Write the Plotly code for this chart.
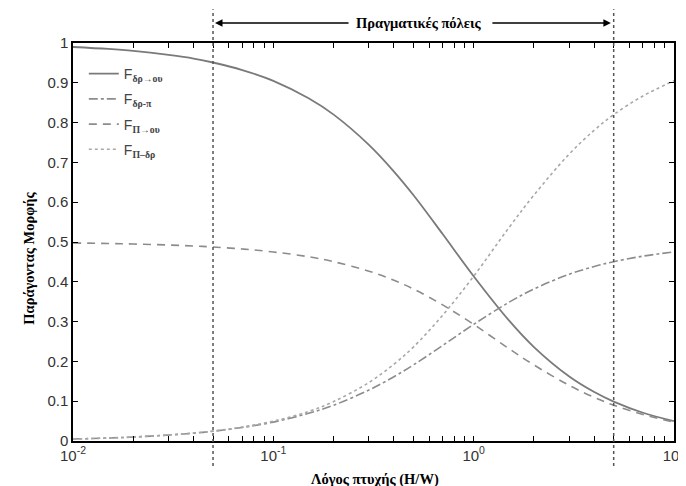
import numpy as np
import plotly.graph_objects as go

# ---- data ----
ratio = [0.01, 0.015, 0.02, 0.03, 0.04, 0.05, 0.07, 0.1, 0.15, 0.2, 0.3, 0.4, 0.5,
         0.7, 1, 1.5, 2, 3, 4, 5, 7, 10]
f_road_sky = [0.990, 0.985, 0.980, 0.970, 0.961, 0.951, 0.932, 0.905, 0.861, 0.820,
              0.744, 0.677, 0.618, 0.520, 0.414, 0.303, 0.236, 0.162, 0.123, 0.099,
              0.071, 0.050]
f_road_wall = [0.005, 0.0075, 0.010, 0.015, 0.0195, 0.0245, 0.034, 0.0475, 0.0695,
               0.090, 0.128, 0.1615, 0.191, 0.240, 0.293, 0.3485, 0.382, 0.419,
               0.4385, 0.4505, 0.4645, 0.475]
f_wall_sky = [0.4975, 0.4963, 0.495, 0.4925, 0.490, 0.4875, 0.4825, 0.475, 0.463,
              0.4505, 0.4267, 0.4037, 0.382, 0.342, 0.293, 0.232, 0.191, 0.1397,
              0.1096, 0.090, 0.0664, 0.0475]
f_wall_road = [0.005, 0.0074, 0.010, 0.015, 0.020, 0.025, 0.035, 0.050, 0.074, 0.099,
               0.147, 0.193, 0.236, 0.316, 0.414, 0.536, 0.618, 0.721, 0.781, 0.820,
               0.867, 0.905]

sub_style = "font-family:'Liberation Serif';font-weight:bold"
names = [
    f"F<sub><span style=\"{sub_style}\">δρ→ου</span></sub>",
    f"F<sub><span style=\"{sub_style}\">δρ-π</span></sub>",
    f"F<sub><span style=\"{sub_style}\">Π→ου</span></sub>",
    f"F<sub><span style=\"{sub_style}\">Π–δρ</span></sub>",
]
series = [f_road_sky, f_road_wall, f_wall_sky, f_wall_road]
dashes = ["solid", "dashdot", "8px,6px", "dot"]
colors = ["#7a7a7a", "#8c8c8c", "#8c8c8c", "#a8a8a8"]
widths = [1.8, 1.6, 1.6, 1.6]

band_low, band_high = 0.05, 5
y_ticks = [round(0.1 * i, 1) for i in range(11)]
x_ticks = [m * 10 ** e for e in (-2, -1, 0) for m in range(1, 10)] + [10]
x_text = ["10<sup>-2</sup>" if v == 0.01 else "10<sup>-1</sup>" if v == 0.1 else
          "10<sup>0</sup>" if v == 1 else "10<sup>1</sup>" if v == 10 else "" for v in x_ticks]

fig = go.Figure()
for i in range(4):
    fig.add_trace(go.Scatter(
        x=ratio, y=series[i], mode="lines", name=names[i], legendgroup=str(i),
        line=dict(color=colors[i], width=widths[i], dash=dashes[i], shape="spline"),
    ))

axis_common = dict(showgrid=False, zeroline=False, showline=True, linecolor="black",
                   linewidth=1.5, ticks="inside", ticklen=5, tickwidth=1.2,
                   tickcolor="black", mirror="ticks", ticklabeloverflow="allow",
                   tickfont=dict(family="Liberation Sans, Arial", size=15, color="#333"))

fig.update_layout(
    width=686, height=486,
    margin=dict(l=65, r=9, t=35, b=53),
    paper_bgcolor="white", plot_bgcolor="white",
    xaxis=dict(type="log", range=[-2, 1], tickvals=x_ticks, ticktext=x_text, **axis_common),
    yaxis=dict(range=[0, 1], tickvals=y_ticks, **axis_common),
    showlegend=True,
    legend=dict(x=0.018, y=0.962, xanchor="left", yanchor="top", bgcolor="rgba(0,0,0,0)",
                font=dict(family="Liberation Sans, Arial", size=14, color="#444"),
                tracegroupgap=4, itemwidth=30),
)

# vertical dotted lines marking the band
for xv in (band_low, band_high):
    fig.add_shape(type="line", xref="x", yref="paper", x0=xv, x1=xv, y0=-0.063, y1=1.085,
                  line=dict(color="#555", width=1.5, dash="dot"))

# top band label with arrows
fig.add_annotation(xref="paper", yref="paper", x=(417 - 65) / 612, y=1.05,
                   xanchor="center", yanchor="middle",
                   text="<b>Πραγματικές πόλεις</b>", showarrow=False,
                   font=dict(family="Liberation Serif", size=14.5, color="black"))
fig.add_annotation(xref="x", yref="paper", x=np.log10(band_low) + 0.01, y=1.05, text="",
                   showarrow=True, axref="pixel", ayref="pixel", ax=135, ay=0,
                   arrowhead=2, arrowsize=1, arrowwidth=1.5, arrowcolor="black")
fig.add_annotation(xref="x", yref="paper", x=np.log10(band_high) - 0.014, y=1.05, text="",
                   showarrow=True, axref="pixel", ayref="pixel", ax=-120, ay=0,
                   arrowhead=2, arrowsize=1, arrowwidth=1.5, arrowcolor="black")

# axis titles
fig.add_annotation(xref="paper", yref="paper", x=(373 - 65) / 612, y=-0.096,
                   xanchor="center", yanchor="middle",
                   text="<b>Λόγος πτυχής (H/W)</b>", showarrow=False,
                   font=dict(family="Liberation Serif", size=14.5, color="black"))
fig.add_annotation(xref="paper", yref="paper", x=(20 - 65) / 612, y=0.46,
                   xanchor="center", yanchor="middle",
                   text="<b>Παράγοντας Μορφής</b>", showarrow=False, textangle=-90,
                   font=dict(family="Liberation Serif", size=14.5, color="black"))

fig.write_html("out.html")
